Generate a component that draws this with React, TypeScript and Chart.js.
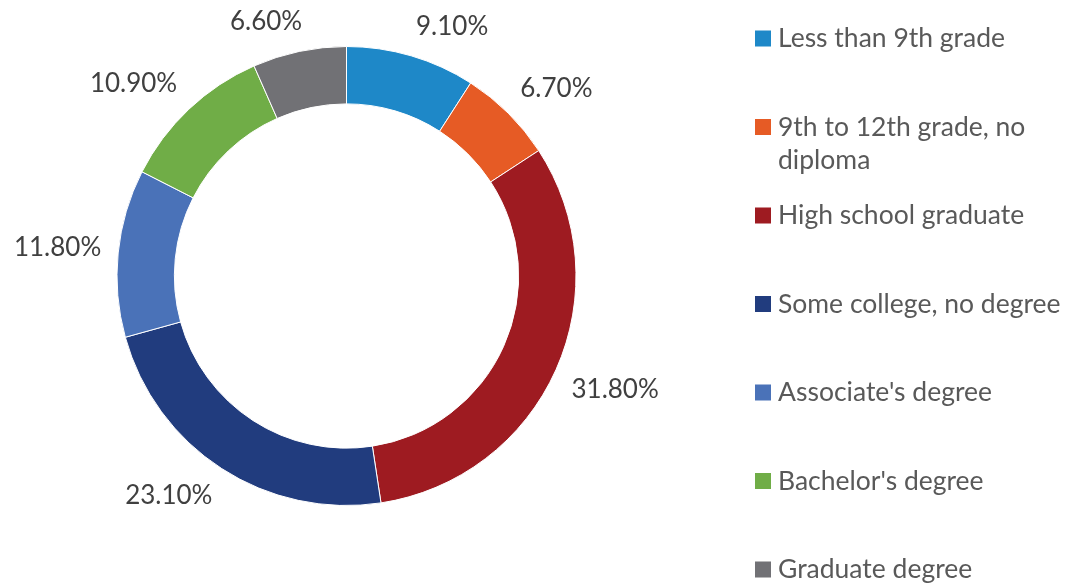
import React, { useEffect, useRef } from "react";
import { Chart, registerables } from "chart.js";

Chart.register(...registerables);

const categories = [
  "Less than 9th grade",
  "9th to 12th grade, no diploma",
  "High school graduate",
  "Some college, no degree",
  "Associate's degree",
  "Bachelor's degree",
  "Graduate degree",
];
const shares = [9.1, 6.7, 31.8, 23.1, 11.8, 10.9, 6.6];
const valueLabels = ["9.10%", "6.70%", "31.80%", "23.10%", "11.80%", "10.90%", "6.60%"];
const sliceColors = ["#1E88C8", "#E65B25", "#9E1B21", "#213C7E", "#4A72B8", "#70AD47", "#717175"];

const FONT = "Lato, 'Open Sans', sans-serif";
const LABEL_COLOR = "#404040";
const LEGEND_COLOR = "#595959";

const outsideLabels = {
  id: "outsideLabels",
  afterDatasetsDraw(chart: any) {
    const ctx = chart.ctx;
    const meta = chart.getDatasetMeta(0);
    ctx.save();
    ctx.font = `26px ${FONT}`;
    ctx.fillStyle = LABEL_COLOR;
    ctx.textAlign = "center";
    ctx.textBaseline = "middle";
    meta.data.forEach((arc: any, i: number) => {
      const { x, y, startAngle, endAngle, outerRadius } = arc.getProps(
        ["x", "y", "startAngle", "endAngle", "outerRadius"],
        true
      );
      const mid = (startAngle + endAngle) / 2;
      const r = outerRadius + 17;
      const ax = x + r * Math.cos(mid);
      const ay = y + r * Math.sin(mid);
      const text = valueLabels[i];
      const w = ctx.measureText(text).width;
      const a = w / 2;
      const b = 13;
      const cx = Math.max(-1, Math.min(1, Math.cos(mid) * 4));
      const cy = Math.max(-1, Math.min(1, Math.sin(mid) * 2.5));
      ctx.fillText(text, ax + a * cx, ay + b * cy);
    });
    ctx.restore();
  },
};

const sideLegend = {
  id: "sideLegend",
  afterDraw(chart: any) {
    const ctx = chart.ctx;
    ctx.save();
    ctx.font = `26.5px ${FONT}`;
    ctx.textBaseline = "middle";
    ctx.textAlign = "left";
    const boxX = 755;
    const textX = 778;
    const maxW = 290;
    const firstY = 38.5;
    const step = 88.5;
    const lineH = 33;
    categories.forEach((label, i) => {
      const cy = firstY + i * step;
      ctx.fillStyle = sliceColors[i];
      ctx.fillRect(boxX, cy - 8, 16, 16);
      ctx.fillStyle = LEGEND_COLOR;
      const words = label.split(" ");
      const lines: string[] = [];
      let cur = "";
      words.forEach((wd) => {
        const test = cur ? cur + " " + wd : wd;
        if (ctx.measureText(test).width > maxW && cur) {
          lines.push(cur);
          cur = wd;
        } else cur = test;
      });
      if (cur) lines.push(cur);
      lines.forEach((ln, j) => ctx.fillText(ln, textX, cy + j * lineH));
    });
    ctx.restore();
  },
};

export default function App() {
  const ref = useRef<HTMLCanvasElement | null>(null);
  useEffect(() => {
    document.body.style.margin = "0";
    const chart = new Chart(ref.current as HTMLCanvasElement, {
      type: "doughnut",
      data: {
        labels: categories,
        datasets: [
          {
            data: shares,
            backgroundColor: sliceColors,
            borderColor: "#ffffff",
            borderWidth: 1,
          },
        ],
      },
      options: {
        responsive: false,
        animation: false,
        cutout: "75%",
        layout: { padding: { left: 116, right: 493, top: 46, bottom: 77 } },
        plugins: {
          legend: { display: false },
          tooltip: { enabled: false },
        },
      },
      plugins: [outsideLabels, sideLegend],
    });
    return () => chart.destroy();
  }, []);
  return (
    <div style={{ width: 1070, height: 583, background: "#fff" }}>
      <canvas ref={ref} width={1070} height={583} />
    </div>
  );
}
